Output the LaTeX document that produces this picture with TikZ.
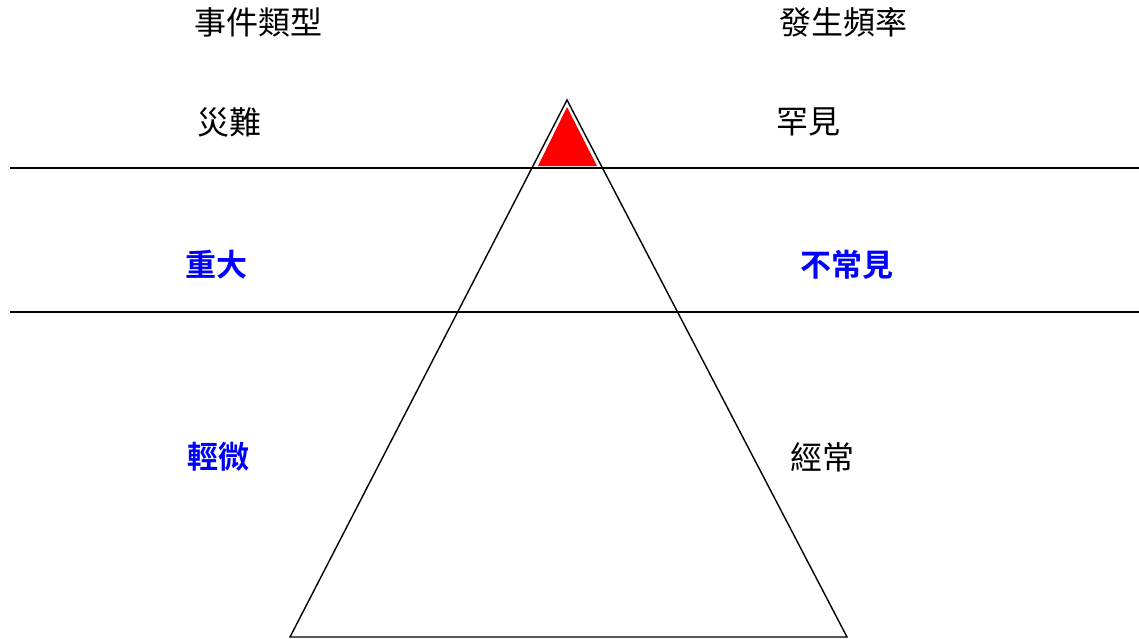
\documentclass[tikz,border=0pt]{standalone}
\usepackage{fontspec}
\newfontfamily\cjk{Noto Sans CJK TC}
\newfontfamily\cjkb{Noto Sans CJK TC Bold}
\definecolor{pureblue}{RGB}{0,0,255}
\definecolor{purered}{RGB}{255,0,0}
\begin{document}
\begin{tikzpicture}[x=1pt,y=-1pt,
  lbl/.style={font=\cjk\fontsize{32}{34}\selectfont, text=black, inner sep=0pt},
  blbl/.style={font=\cjkb\fontsize{31}{33}\selectfont, text=pureblue, inner sep=0pt},
  ln/.style={draw=black, line width=1.4pt}]
\useasboundingbox (0,0) rectangle (1139,638);
% coordinates
\coordinate (apex) at (567,100);
\coordinate (bl) at (290,637);
\coordinate (br) at (847,637);
\coordinate (l1a) at (10,168);
\coordinate (l1b) at (1139,168);
\coordinate (l2a) at (10,312);
\coordinate (l2b) at (1139,312);
\coordinate (ra) at (567,107);
\coordinate (rl) at (538,166);
\coordinate (rr) at (597,166);
% red tip
\fill[purered] (ra) -- (rl) -- (rr) -- cycle;
% triangle
\draw[ln, line join=miter] (apex) -- (bl) -- (br) -- cycle;
% lines
\draw[ln] (l1a) -- (l1b);
\draw[ln] (l2a) -- (l2b);
% labels
\node[lbl] (h1) at (258,22) {事件類型};
\node[lbl] (h2) at (843,22) {發生頻率};
\node[lbl] (a1) at (229,122) {災難};
\node[lbl] (a2) at (808,122) {罕見};
\node[blbl] (b1) at (216,265) {重大};
\node[blbl] (b2) at (847,265) {不常見};
\node[blbl] (c1) at (218,457) {輕微};
\node[lbl] (c2) at (822,457) {經常};
\end{tikzpicture}
\end{document}
